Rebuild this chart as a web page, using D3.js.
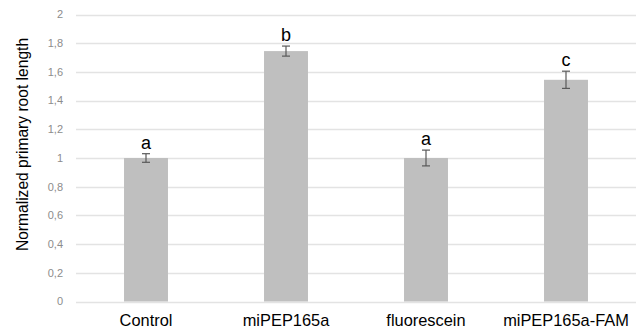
<!DOCTYPE html>
<html>
<head>
<meta charset="utf-8">
<script src="https://cdn.jsdelivr.net/npm/d3@7"></script>
<style>
  body { margin: 0; background: #fff; }
  svg { display: block; font-family: "Liberation Sans", Arial, sans-serif; }
</style>
</head>
<body>
<div id="chart"></div>
<script>
// bar chart of normalized root length with error bars and significance letters
const categories = ["Control", "miPEP165a", "fluorescein", "miPEP165a-FAM"];
const values = [1.0, 1.745, 1.0, 1.545];
const errors = [0.03, 0.035, 0.055, 0.06];
const letters = ["a", "b", "a", "c"];
const yTicks = [0, 0.2, 0.4, 0.6, 0.8, 1, 1.2, 1.4, 1.6, 1.8, 2];

var width = 638, height = 334;
var margin = {top: 14.5, right: 2, bottom: 32.5, left: 76};

let svg = d3.select("#chart")
    .append("svg")
        .attr("width", width)
        .attr("height", height);

let x = d3.scaleBand()
    .domain(categories)
    .range([margin.left, width - margin.right])
    .paddingInner(0.686)
    .paddingOuter(0.343);

let y = d3.scaleLinear()
    .domain([0, 2])
    .range([height - margin.bottom, margin.top]);

// gridlines
svg.selectAll(".grid")
    .data(yTicks)
    .enter()
    .append("line")
    .attr("x1", margin.left)
    .attr("x2", width - margin.right)
    .attr("y1", d => Math.round(y(d)) + 0.5)
    .attr("y2", d => Math.round(y(d)) + 0.5)
    .attr("stroke", "#e3e3e3")
    .attr("stroke-width", 1.3);

// y tick labels
let fmt = d => String(d).replace(".", ",");
svg.selectAll(".ytick")
    .data(yTicks)
    .enter()
    .append("text")
    .attr("x", 63)
    .attr("y", d => y(d))
    .attr("dy", "0.35em")
    .attr("text-anchor", "end")
    .style("font-size", "11px")
    .style("fill", "#8c8c8c")
    .text(fmt);

// bars
svg.selectAll(".bar")
    .data(values)
    .enter()
    .append("rect")
    .attr("x", (d, i) => x(categories[i]))
    .attr("width", x.bandwidth())
    .attr("y", d => y(d))
    .attr("height", d => y(0) - y(d))
    .attr("fill", "#bfbfbf");

// error bars
let cx = i => x(categories[i]) + x.bandwidth() / 2;
let eb = svg.selectAll(".err")
    .data(values)
    .enter()
    .append("g")
    .attr("stroke", "#595959")
    .attr("stroke-width", 1.2);

eb.append("line")
    .attr("x1", (d, i) => cx(i))
    .attr("x2", (d, i) => cx(i))
    .attr("y1", (d, i) => y(d + errors[i]))
    .attr("y2", (d, i) => y(d - errors[i]));
eb.append("line")
    .attr("x1", (d, i) => cx(i) - 4)
    .attr("x2", (d, i) => cx(i) + 4)
    .attr("y1", (d, i) => y(d + errors[i]))
    .attr("y2", (d, i) => y(d + errors[i]));
eb.append("line")
    .attr("x1", (d, i) => cx(i) - 4)
    .attr("x2", (d, i) => cx(i) + 4)
    .attr("y1", (d, i) => y(d - errors[i]))
    .attr("y2", (d, i) => y(d - errors[i]));

// significance letters
svg.selectAll(".letter")
    .data(values)
    .enter()
    .append("text")
    .attr("x", (d, i) => cx(i))
    .attr("y", (d, i) => y(d + errors[i]) - 5)
    .attr("text-anchor", "middle")
    .style("font-size", "18px")
    .style("fill", "#000")
    .text((d, i) => letters[i]);

// category labels
svg.selectAll(".xlab")
    .data(categories)
    .enter()
    .append("text")
    .attr("x", d => x(d) + x.bandwidth() / 2)
    .attr("y", 326)
    .attr("text-anchor", "middle")
    .style("font-size", "16.4px")
    .style("fill", "#000")
    .text(d => d);

// axis title
svg.append("text")
    .attr("transform", "translate(28,144.5) rotate(-90)")
    .attr("text-anchor", "middle")
    .style("font-size", "15.6px")
    .style("fill", "#000")
    .text("Normalized primary root length");
</script>
</body>
</html>
